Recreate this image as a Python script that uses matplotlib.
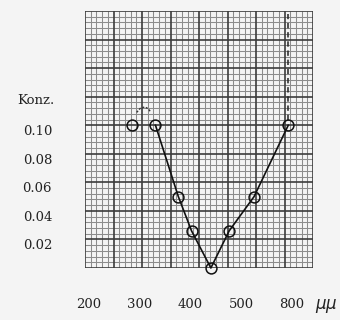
import numpy as np
import matplotlib
matplotlib.use("Agg")
import matplotlib.pyplot as plt
from matplotlib.collections import LineCollection
import matplotlib.transforms as mtransforms

# ---- data ----
wavelength = [284, 331, 376, 402, 440, 476, 575, 777]          # m-mu
konz = [0.100, 0.100, 0.050, 0.026, 0.000, 0.026, 0.050, 0.100]
arc_wl = [294, 301, 310, 317, 322]
arc_konz = [0.109, 0.1118, 0.1128, 0.1115, 0.109]
xtick_vals = [200, 300, 400, 500, 800]
xtick_labels = ["200", "300", "400", "500", "800"]
ytick_vals = [0.10, 0.08, 0.06, 0.04, 0.02]
ytick_labels = ["0.10", "0.08", "0.06", "0.04", "0.02"]
x_unit = r"$\mu\mu$"
y_title = "Konz."

# piecewise-linear wavelength scale (ticks evenly spaced)
kn_l = np.array(xtick_vals, float)
kn_p = np.arange(len(kn_l), dtype=float)

def fwd(l):
    l = np.asarray(l, float)
    p = np.interp(l, kn_l, kn_p)
    lo = (l - kn_l[0]) / (kn_l[1] - kn_l[0]) + kn_p[0]
    hi = (l - kn_l[-1]) / (kn_l[-1] - kn_l[-2]) + kn_p[-1]
    return np.where(l < kn_l[0], lo, np.where(l > kn_l[-1], hi, p))

def inv(p):
    p = np.asarray(p, float)
    l = np.interp(p, kn_p, kn_l)
    lo = kn_l[0] + (p - kn_p[0]) * (kn_l[1] - kn_l[0])
    hi = kn_l[-1] + (p - kn_p[-1]) * (kn_l[-1] - kn_l[-2])
    return np.where(p < kn_p[0], lo, np.where(p > kn_p[-1], hi, l))

BG = "#f4f4f4"
fig = plt.figure(figsize=(3.4, 3.2), dpi=100, facecolor=BG)
ax = fig.add_axes([85/340, 1-268/320, 228/340, 257/320])
ax.set_facecolor(BG)
ax.set_xscale("function", functions=(fwd, inv))
ax.set_xlim(float(inv(-0.077)), float(inv(4.41)))
ax.set_ylim(0, 0.18)

# graph-paper grid in axes coordinates
nx, ny = 40, 45
segs_min, segs_maj = [], []
for i in range(nx + 1):
    (segs_maj if i % 5 == 0 else segs_min).append([(i/nx, 0), (i/nx, 1)])
for j in range(ny + 1):
    (segs_maj if j % 5 == 0 else segs_min).append([(0, j/ny), (1, j/ny)])
ax.add_collection(LineCollection(segs_min, colors="#8c8c8c", linewidths=0.75,
                                 transform=ax.transAxes, zorder=1))
ax.add_collection(LineCollection(segs_maj, colors="#3c3c3c", linewidths=1.2,
                                 transform=ax.transAxes, zorder=1.1))

for s in ax.spines.values():
    s.set_visible(False)
ax.set_xticks([]); ax.set_yticks([])
ax.minorticks_off()

# curve
ax.plot(wavelength[1:], konz[1:], color="#111", lw=1.2, zorder=3, clip_on=False)
ax.plot(arc_wl, arc_konz, color="#333", lw=1.0, ls=(0, (1.5, 1.2)), zorder=3)
ax.plot(wavelength, konz, ls="none", marker="o", ms=7.8, mfc="none",
        mec="#111", mew=1.1, zorder=4, clip_on=False)
ax.vlines(wavelength[-1], konz[-1] + 0.004, 0.178, colors="#222", lw=1.1,
          linestyles=(0, (3.5, 2.5)), zorder=3)

font = dict(family=["DejaVu Serif"], fontsize=9.5, color="#222")
# y labels
ytr = mtransforms.blended_transform_factory(fig.transFigure, ax.transData)
for v, t in zip(ytick_vals, ytick_labels):
    ax.text(52/340, v, t, transform=ytr, ha="right", va="top", **font)
ax.text(36/340, 1-101/320, y_title, transform=fig.transFigure, ha="center",
        va="center", **font)
# x labels
xtr = mtransforms.blended_transform_factory(ax.transData, fig.transFigure)
for v, t in zip(xtick_vals, xtick_labels):
    ax.text(v, 1-305/320, t, transform=xtr, ha="center", va="center", **font)
ax.text(326/340, 1-306/320, x_unit, transform=fig.transFigure, ha="center",
        va="center", fontsize=12, color="#222")

fig.savefig("out.png", dpi=100, facecolor=BG)
